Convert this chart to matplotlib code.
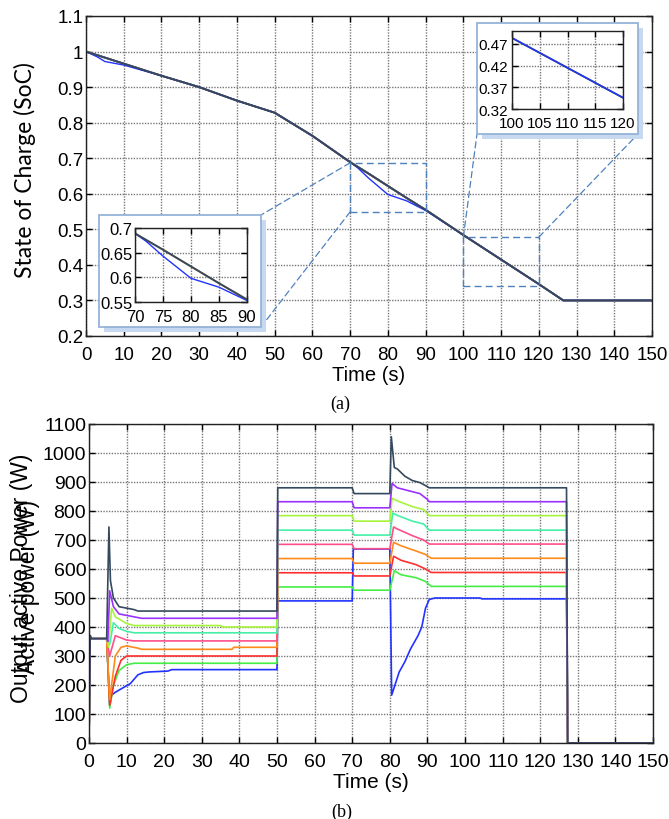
import matplotlib
matplotlib.use("Agg")
import matplotlib.pyplot as plt
from matplotlib.patches import Rectangle, ConnectionPatch
import numpy as np

# ---- SoC data ----
soc_t = [0, 10, 20, 30, 40, 50, 60, 70, 75, 80, 85, 90, 100, 110, 120, 126.5, 150]
soc_v = [1.0, 0.966, 0.932, 0.9, 0.862, 0.828, 0.763, 0.689, 0.656, 0.622, 0.588,
         0.555, 0.484, 0.415, 0.346, 0.3, 0.3]
soc_blue_t = [0, 3, 5, 8, 10, 20, 30, 40, 50, 60, 70, 72, 75, 80, 85, 90, 100, 110, 120, 126.5, 150]
soc_blue_v = [1.0, 0.985, 0.972, 0.966, 0.962, 0.932, 0.9, 0.862, 0.828, 0.763, 0.689,
              0.673, 0.643, 0.598, 0.58, 0.553, 0.484, 0.415, 0.346, 0.3, 0.3]

# ---- active power data (W) ----
p_dark_t = [0, 0.3, 0.6, 4.7, 5.3, 5.7, 6.5, 8, 10, 12, 13, 50, 50.2, 70, 70.5, 80,
            80.4, 81.2, 82, 84, 86, 88, 90, 90.5, 127, 127.3, 150]
p_dark_v = [0, 370, 360, 360, 745, 560, 500, 470, 465, 460, 455, 455, 880, 880, 860, 860,
            1056, 950, 945, 920, 905, 898, 884, 880, 880, 0, 0]
p_purple_t = [0, 0.3, 0.6, 4.7, 5.0, 5.5, 6.5, 8, 10, 12, 14, 50, 50.2, 70, 70.5, 80,
              80.6, 82, 85, 88, 90, 90.5, 127, 127.3, 150]
p_purple_v = [0, 370, 360, 360, 350, 525, 470, 445, 440, 435, 430, 430, 832, 832, 811, 811,
              895, 880, 870, 860, 840, 832, 832, 0, 0]
p_ygreen_t = [0, 0.3, 0.6, 4.7, 5.2, 6, 7, 10, 12, 35, 35.5, 50, 50.2, 70, 70.5, 80,
              80.6, 82, 86, 89, 90, 90.5, 127, 127.3, 150]
p_ygreen_v = [0, 370, 360, 360, 330, 465, 435, 412, 405, 405, 400, 400, 784, 784, 765, 765,
              844, 835, 815, 805, 790, 784, 784, 0, 0]
p_spring_t = [0, 0.3, 0.6, 4.7, 5.5, 6.5, 8, 10, 12, 50, 50.2, 70, 70.5, 80,
              80.8, 82, 86, 89, 90.5, 127, 127.3, 150]
p_spring_v = [0, 370, 360, 360, 340, 415, 395, 385, 380, 380, 734, 734, 717, 717,
              793, 785, 765, 755, 734, 734, 0, 0]
p_pink_t = [0, 0.3, 0.6, 4.7, 5.5, 7, 8, 10, 12, 50, 50.2, 70, 70.5, 80,
            81, 82, 86, 89, 90.5, 127, 127.3, 150]
p_pink_v = [0, 370, 360, 360, 300, 370, 365, 355, 352, 352, 685, 685, 670, 670,
            745, 738, 715, 700, 686, 686, 0, 0]
p_orange_t = [0, 0.3, 0.6, 4.7, 5.5, 7, 8.5, 10, 13, 14, 38, 38.5, 50, 50.2, 70, 70.5, 80,
              81, 83, 87, 89.5, 91, 127, 127.3, 150]
p_orange_v = [0, 370, 360, 360, 150, 300, 330, 335, 327, 323, 323, 330, 330, 636, 636, 620, 620,
              692, 680, 662, 650, 637, 637, 0, 0]
p_red_t = [0, 0.3, 0.6, 4.7, 5.5, 7, 8.5, 10, 50, 50.2, 70, 70.5, 80,
           81, 83, 87, 89.5, 91, 127, 127.3, 150]
p_red_v = [0, 370, 360, 360, 130, 230, 285, 300, 300, 587, 587, 576, 576,
           644, 630, 615, 600, 588, 588, 0, 0]
p_green_t = [0, 0.3, 0.6, 4.7, 5.5, 6.5, 8, 10, 12, 50, 50.2, 70, 70.5, 80,
             81.2, 83, 87, 89.5, 91, 127, 127.3, 150]
p_green_v = [0, 370, 360, 360, 120, 200, 250, 270, 275, 275, 538, 538, 527, 527,
             594, 580, 570, 557, 540, 540, 0, 0]
p_blue_t = [0, 0.3, 0.6, 4.7, 5.5, 6, 7, 9, 11, 13, 14.5, 16, 21, 22, 50, 50.2, 70, 70.3, 80,
            80.5, 81.5, 82.5, 84, 85.5, 87.5, 88.5, 89.5, 90.5, 92, 104, 104.5, 127, 127.3, 150]
p_blue_v = [0, 370, 360, 360, 130, 165, 175, 190, 205, 235, 243, 245, 248, 253, 253, 490, 490, 669, 669,
            165, 205, 245, 280, 324, 370, 400, 465, 495, 500, 500, 497, 497, 0, 0]

colors = {
    "blue": "#2233ff", "green": "#44ee44", "red": "#ff2f2f", "orange": "#ff8a1a",
    "pink": "#ff4f88", "spring": "#44f0a8", "ygreen": "#a6f53a", "purple": "#9b30ff",
    "dark": "#34495e",
}

plt.rcParams["font.family"] = ["Liberation Sans", "DejaVu Sans"]
W, H = 669, 820
fig = plt.figure(figsize=(W / 100, H / 100), dpi=100)


def fbox(x0, y0, x1, y1):
    # pixel box (top-left origin) -> figure fraction rect
    return [x0 / W, 1 - y1 / H, (x1 - x0) / W, (y1 - y0) / H]


def style(ax, fs, xpad, ypad):
    ax.grid(True, color="#777777", linestyle=(0, (1, 1)), linewidth=1.0)
    ax.tick_params(direction="in", top=True, right=True, length=4, labelsize=fs,
                   width=1.0)
    ax.tick_params(axis="x", pad=xpad)
    ax.tick_params(axis="y", pad=ypad)
    for s in ax.spines.values():
        s.set_linewidth(1.0)
        s.set_color("#222222")


# ---------------- (a) SoC ----------------
ax1 = fig.add_axes(fbox(86, 17, 652, 337))
ax1.set_zorder(0)
for key in ["green", "red", "orange", "pink", "spring", "ygreen", "purple"]:
    ax1.plot(soc_t, soc_v, color=colors[key], lw=1.2)
ax1.plot(soc_blue_t, soc_blue_v, color=colors["blue"], lw=1.0)
ax1.plot(soc_t, soc_v, color=colors["dark"], lw=1.4)
ax1.set_xlim(0, 150)
ax1.set_ylim(0.2, 1.1)
ax1.set_xticks(np.arange(0, 151, 10))
ax1.set_yticks(np.arange(0.2, 1.11, 0.1))
ax1.set_yticklabels(["0.2", "0.3", "0.4", "0.5", "0.6", "0.7", "0.8", "0.9", "1", "1.1"])
style(ax1, 13.5, 7, 2)
ax1.set_xlabel("Time (s)", fontsize=14.5, labelpad=2)
fig.text(25 / W, 1 - 170 / H, "State of Charge (SoC)", rotation=90, ha="center",
         va="center", fontsize=16.5, family=["Lato", "DejaVu Sans"])
fig.text(340 / W, 1 - 404 / H, "(a)", ha="center", va="center", fontsize=13,
         family=["Liberation Serif"])

zoom_col = "#4f81bd"
frame_col = "#95b3d7"
shadow_col = "#c6d9f1"

# zoom boxes on the main axes
zooms = [((70, 0.549), 20, 0.138), ((100, 0.34), 20, 0.138)]
for (x0, y0), wd, ht in zooms:
    ax1.add_patch(Rectangle((x0, y0), wd, ht, fill=False, ls=(0, (5, 3)),
                            lw=1.0, ec=zoom_col, zorder=4))

# inset frames with shadows
frames = [(99, 216, 261, 328), (477, 24, 638, 135)]
for (x0, y0, x1, y1) in frames:
    r = fbox(x0, y0, x1, y1)
    fig.add_artist(Rectangle((r[0] + 5 / W, r[1] - 5 / H), r[2], r[3],
                             transform=fig.transFigure, fc=shadow_col, ec="none", zorder=2))
    fig.add_artist(Rectangle((r[0], r[1]), r[2], r[3], transform=fig.transFigure,
                             fc="white", ec=frame_col, lw=1.3, zorder=3))

# connector lines
conns = [((70, 0.687), (261, 216)), ((70, 0.549), (261, 328)),
         ((100, 0.478), (477, 135)), ((120, 0.478), (638, 135))]
for (dx, dy), (px, py) in conns:
    cp = ConnectionPatch(xyA=(dx, dy), coordsA=ax1.transData,
                         xyB=(px / W, 1 - py / H), coordsB=fig.transFigure,
                         ls=(0, (5, 3)), lw=0.9, color=zoom_col, zorder=1)
    fig.add_artist(cp)

# inset 1
ins1 = fig.add_axes(fbox(135, 229, 247, 303))
ins1.set_zorder(5)
ins1.plot(soc_t, soc_v, color=colors["orange"], lw=1.2)
ins1.plot(soc_blue_t, soc_blue_v, color=colors["blue"], lw=1.0)
ins1.plot(soc_t, soc_v, color=colors["dark"], lw=1.4)
ins1.set_xlim(70, 90)
ins1.set_ylim(0.55, 0.7)
ins1.set_xticks([70, 75, 80, 85, 90])
ins1.set_yticks([0.55, 0.6, 0.65, 0.7])
ins1.set_yticklabels(["0.55", "0.6", "0.65", "0.7"])
style(ins1, 12, 5, 2)

# inset 2
ins2 = fig.add_axes(fbox(512, 32, 623, 110))
ins2.set_zorder(5)
ins2.plot(soc_t, soc_v, color=colors["dark"], lw=1.4)
ins2.plot(soc_blue_t, soc_blue_v, color=colors["blue"], lw=1.0)
ins2.set_xlim(100, 120)
ins2.set_ylim(0.32, 0.50)
ins2.set_xticks([100, 105, 110, 115, 120])
ins2.set_yticks([0.32, 0.37, 0.42, 0.47])
ins2.set_yticklabels(["0.32", "0.37", "0.42", "0.47"])
style(ins2, 11, 5, 3)

# ---------------- (b) active power ----------------
ax2 = fig.add_axes(fbox(89, 425, 653, 744))
series = [
    (p_blue_t, p_blue_v, "blue"), (p_green_t, p_green_v, "green"),
    (p_red_t, p_red_v, "red"), (p_orange_t, p_orange_v, "orange"),
    (p_pink_t, p_pink_v, "pink"), (p_spring_t, p_spring_v, "spring"),
    (p_ygreen_t, p_ygreen_v, "ygreen"), (p_purple_t, p_purple_v, "purple"),
    (p_dark_t, p_dark_v, "dark"),
]
for t, v, key in series:
    ax2.plot(t, v, color=colors[key], lw=1.2)
ax2.set_xlim(0, 150)
ax2.set_ylim(0, 1100)
ax2.set_xticks(np.arange(0, 151, 10))
ax2.set_yticks(np.arange(0, 1101, 100))
style(ax2, 14, 7, 2)
ax2.set_xlabel("Time (s)", fontsize=15, labelpad=2)
fig.text(22 / W, 1 - 578 / H, "Output active Power (W)", rotation=90, ha="center",
         va="center", fontsize=16.5)
fig.text(29 / W, 1 - 587 / H, "Active power (W)", rotation=90, ha="center",
         va="center", fontsize=16.5)
fig.text(342 / W, 1 - 812 / H, "(b)", ha="center", va="center", fontsize=13,
         family=["Liberation Serif"])

fig.savefig("out.png", dpi=100)
